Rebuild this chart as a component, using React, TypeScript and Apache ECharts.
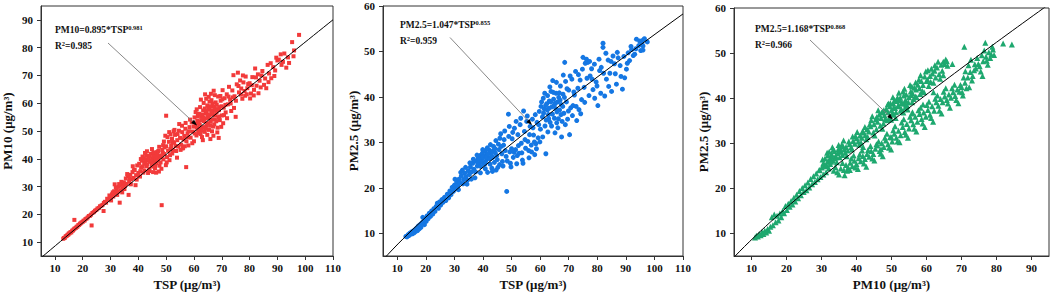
import React, { useEffect, useRef } from "react";
import * as echarts from "echarts";

// ---------- Data ----------
// Panel 1: TSP (x) vs PM10 (y)
const tspPm10: number[][] = [
  [13,11.2],[13.3,11.5],[13.6,11.6],[13.9,12.1],[14.2,12.2],[14.5,12.6],[14.8,12.7],[15,13.1],[15.3,13.2],[15.6,13.6],[15.9,13.5],[16.2,14.1],[16.5,14.2],[16.8,14.6],[17,18],[17.1,14.9],[17.5,15.1],[17.8,15.5],[18.1,15.6],[18.4,16.1],[18.7,16.2],[19,16.6],[19.3,16.8],[19.6,17.1],[20,17.3],[20.3,17.7],[20.7,17.8],[21,18.3],[21.4,18.5],[21.8,18.9],[22.2,19.4],[22.6,19.5],[23,19.9],[23.2,16],[23.5,20.5],[24,20.8],[24.4,21.3],[24.9,21.6],[25.3,22.1],[25.8,22.3],[26.2,22.9],[26.7,23.1],[27.1,23.4],[27.5,21.2],[27.6,24.1],[28,24.5],[28.4,24.2],[28.8,25.6],[29.2,25.4],[29.6,26.8],[30,26.1],[30.2,25],[30.5,27.2],[31,26.4],[31.3,28.3],[31.5,30.8],[31.8,27.6],[32.2,29.1],[32.6,28.1],[33,29.9],[33.3,24.2],[33.5,28.6],[34,30.6],[34.4,29.4],[34.8,31.5],[35.2,30.2],[35.5,32.9],[35.8,31],[36.2,33.8],[36.5,27],[36.7,31.8],[37.1,34.2],[37.5,32.6],[37.9,35.2],[38.3,33.1],[38.7,36],[39,30.5],[39.2,34.1],[39.6,37.6],[40,34.9],[40.3,38.2],[40.7,35.5],[41,36.8],[41.3,39.3],[41.6,37.2],[42,40.1],[42.2,35.8],[42.5,38.5],[42.8,41.2],[43,37.4],[43.3,39.4],[43.6,40.8],[43.9,36.3],[44.2,38.9],[44.5,41.8],[44.8,37.8],[45.1,40.2],[45.4,42.1],[45.7,39.1],[46,36.6],[46.2,41.5],[46.5,38.4],[46.8,42.4],[47.1,40.1],[47.4,35.4],[47.7,41.2],[48,38.7],[48.4,23.3],[48.6,43.2],[49,39.8],[49.3,41.7],[49.7,48.3],[50,55.5],[50,44.5],[50.3,40.6],[50.7,42.9],[51,46.1],[51.4,41.3],[51.8,44.6],[52.1,47.2],[52.5,43.1],[52.9,45.8],[53.2,48.6],[53.6,42.8],[54,46.7],[54.3,44.4],[54.7,52.5],[55,47.5],[55.4,45.1],[55.8,49.6],[56.1,43.9],[56.5,48.2],[56.9,50.8],[57.2,37],[57.3,46.3],[57.7,49.2],[58,44.8],[58.4,51.4],[58.8,47.6],[59.2,53.1],[59.6,49.8],[60,46.3],[60.2,54.9],[60.5,51.7],[60.9,48.4],[61.2,53.8],[61.5,50.6],[61.8,56.2],[62.1,52.3],[62.4,48.9],[62.7,55.1],[63,51.2],[63.3,57.4],[63.6,53.6],[63.9,49.7],[64.2,56.3],[64.5,52.1],[64.8,59.2],[65.1,54.7],[65.4,50.4],[65.7,57.8],[66,53.3],[66.3,61.1],[66.6,55.9],[66.9,51.6],[67.2,58.7],[67.5,54.2],[67.8,60.3],[68.1,56.8],[68.4,49.5],[68.7,62.4],[69,57.5],[69.3,53.9],[69.6,60.9],[70,55.6],[70.3,64.7],[70.7,58.4],[71,61.8],[71.4,56.7],[71.8,63.2],[72.2,59.6],[72.6,65.9],[73,61.3],[73.4,57.2],[73.8,64.6],[74.2,70.1],[74.6,62.5],[75,55.1],[75.4,66.8],[75.8,71],[76.2,63.9],[76.6,68.2],[77,65.3],[77.4,61.6],[77.8,67.5],[78.2,64.4],[78.6,69.6],[79,63.2],[79.5,66.9],[80,67.2],[80.5,63.5],[81,69.4],[81.5,62.8],[82,72.5],[82.5,66.3],[83,70.4],[83.6,68.1],[84,65.7],[84.6,71.6],[85.2,66.6],[86,65.4],[86.5,73.8],[87,70.7],[87.8,69],[88.5,73],[89.2,71.8],[90,75.4],[90.5,75.7],[91.2,77.6],[92,74.9],[93.2,72.8],[93.8,76.5],[95.3,82],[95.8,76.9],[96,79],[97.8,84.6],
  [60.8,52.6],[61.4,55.4],[62,50.9],[62.6,53.9],[63.1,55.8],[63.7,51.4],[64.1,54.5],[64.6,57.1],[65,52.8],[65.5,55.6],[65.9,58.9],[66.4,54.1],[66.8,57.2],[67.3,52.4],[67.7,55.7],[68.2,59.4],[68.8,54.8],[69.2,58.6],[69.8,51.5],[61,57.8],[62.2,58.6],[63.5,60.1],[64.4,61.6],[65.3,62.3],[66.1,63.4],[67.5,62.9],[61.6,49.3],[62.9,47.8],[64.8,48.6],[66.5,49.9],[68.5,51.2],[70.5,52.8],
  [42.1,38.2],[42.7,39.7],[43.2,38],[43.7,39.9],[44.1,41],[44.6,39.5],[45,38.1],[45.5,40.9],[45.9,42.3],[46.3,39.8],[46.7,41],[47.2,42.8],[44,35.6],[45.2,37.2],[46.4,35],[47.6,37.5],[48.2,40.6],[48.8,42.1],[49.4,44.1],[50.2,38.7],[51.2,39.5],[52.2,41.9],[53,50.4],[51.6,48.8],[54.6,50.1],[55.9,43.7],
  [30.8,27.9],[32.4,27],[33.9,31.7],[35,29.1],[36,34.5],[37.3,30.8],[38.4,35.9],[39.4,32.5],[40.6,33.6],[41.8,35],[38,37.3],[36.9,32.9],[34.2,27.9],[33.1,30.9],[31.9,29.7],
  [40.9,39.9],[42.4,42.1],[43.5,34.9],[44.9,43.5],[46.1,37.6],[47.5,44.3],[48.3,36.4],[49.2,46.2],[49.9,37.7],[45.3,35.2],[43.1,42.7],[41.5,40.8],[46.9,39.3],[48.9,44.9],
  [50.5,47.8],[51.5,43.5],[52.7,49.9],[53.4,44.6],[54.1,48.9],[55.2,43.2],[55.7,51.9],[56.3,46.9],[57,52.9],[57.9,47.8],[58.6,54.1],[59.4,45.6],[59.9,51.6],[53.9,40.4],[56.7,44.5],[58.2,49.9],[52.4,46],[51.1,49.6],
  [60.3,49.1],[60.6,56.8],[61.1,51.2],[61.7,53.2],[62.3,55.9],[62.8,50.1],[63.4,54.7],[63.9,58.1],[64.3,50.9],[64.9,55.8],[65.2,58],[65.8,51.9],[66.2,56.7],[66.7,59.9],[67,48.3],[67.6,57.6],[68,53.5],[68.6,57.9],[69.1,55.2],[69.5,62.6],[69.9,58.9],[62.5,61.3],[64,63.2],[65.6,60.6],[67.1,64.5],[63.2,46.7],[65.9,47.1],[68.9,47.5],[70.8,55.7],[71.3,59.4],[71.9,54.6],[72.4,62.4],[73.2,59.9],[73.9,62.1],[74.4,58.3],[70.2,61.4],
  [75.1,60.9],[76,66.2],[76.9,63.1],[77.6,70],[78.4,62.7],[79.2,65.4],[80.2,61.7],[80.8,66.5],[81.6,64.8],[82.3,69.3],[83.2,63.6],[84.3,70],[85.6,68.9],[86.8,67.6],[87.6,74.4],[88.9,69.8],[89.6,76.4],[91.5,73.8],[92.5,77.9],[94.2,74.5]
];

// Panel 2: TSP (x) vs PM2.5 (y)
const tspPm25: number[][] = [
  [13,9.3],[13.4,9.2],[13.8,9.7],[14.1,9.5],[14.4,10],[14.7,9.8],[15,10.3],[15.3,9.9],[15.6,10.5],[15.9,10.1],[16.2,10.8],[16.5,10.4],[16.8,11.2],[17.1,10.6],[17.4,11.6],[17.7,11],[18,11.9],[18.3,11.3],[18.6,12.3],[18.9,13.5],[19.2,12.6],[19.5,11.9],[19.8,13.1],[20.1,12.6],[20.4,13.8],[20.8,13.2],[21.2,14.4],[21.6,13.7],[22,14.9],[22.4,14.2],[22.8,15.4],[23.2,14.8],[23.6,15.9],[24,16.6],[24.4,15.5],[24.8,16.9],[25.2,16.2],[25.6,17.4],[26,16.8],[26.5,17.9],[27,17.2],[27.5,18.6],[28,17.8],[28.4,19.3],[28.8,18.5],[29.2,20.1],[29.6,19.2],[30,20.6],[30.4,19.8],[30.8,21.3],[31.2,20.4],[31.6,21.9],[32,21.1],[32.4,22.6],[32.8,23.9],[33.2,21.8],[33.6,23.2],[34,22.4],[34.4,20.8],[34.8,23.8],[35.2,22.9],[35.6,24.6],[36,23.5],[36.4,25.4],[36.8,24.1],[37.2,22.2],[37.6,25.9],[38,24.8],[38.3,26.6],[38.6,25.3],[38.9,27.1],[39.2,24.7],[39.5,26.3],[39.8,27.6],[40.1,25.5],[40.4,26.9],[40.7,28.1],[41,25.9],[41.3,27.4],[41.6,23.4],[41.9,26.5],[42.2,28.3],[42.5,25.2],[42.8,27.8],[43.1,24.3],[43.4,26.7],[43.7,29.1],[44,25.6],[44.3,27.7],[44.6,23.9],[45,26.2],[45.4,29.6],[45.8,25.1],[46.2,31.9],[46.6,27.5],[47,24.8],[47.4,30.6],[47.8,28.2],[48.3,19.2],[48.5,25.9],[48.9,36.2],[49,31.3],[49.4,27.9],[49.8,24.6],[50.2,30.8],[50.6,26.7],[51,33.1],[51.4,28.4],[51.8,25.3],[52.2,31.7],[52.6,27.6],[53,33.9],[53.4,29.8],[53.8,26.1],[54.2,36.9],[54.5,32.4],[54.9,28.7],[55.3,34.6],[55.7,30.2],[56.1,26.6],[56.5,33.5],[56.9,29.4],[57.3,35.1],[57.7,31.6],[58.1,27.3],[58.5,29.7],[58.9,34.4],[59.3,31],[59.7,36.8],[60.1,32.9],[60.5,38.9],[60.8,35.6],[61.1,39.7],[61.4,37.4],[61.7,33.6],[62,27.5],[62.3,38.5],[62.6,40.3],[62.9,36.1],[63.2,39.1],[63.5,34.4],[63.8,41.2],[64.1,37.8],[64.4,43.6],[64.7,39.5],[65,35.3],[65.3,38.6],[65.6,40.8],[65.9,36.7],[66.2,33.2],[66.5,39.9],[66.8,37.1],[67.1,42.4],[67.4,38.3],[67.7,34.6],[68,40.6],[68.3,36.4],[68.6,47.6],[68.9,43.4],[69.2,38.9],[69.6,35.1],[70,41.5],[70.3,31.7],[70.7,37.6],[71.1,43.9],[71.5,38.1],[72,40.4],[72.4,45.6],[72.8,34.8],[73.2,41.9],[73.6,37.2],[74,43.7],[74.5,39.4],[75,48.7],[75.4,42.1],[75.8,47.4],[76.2,48.3],[76.7,47.6],[77.1,40.3],[77.5,44.6],[78,46.2],[78.5,41.6],[79.1,39.7],[79.6,43.3],[80.2,38.1],[80.8,45.8],[81.4,46.5],[82,50.9],[82,51.8],[82.6,40.2],[83.2,43.9],[83.8,48.1],[84.4,45.2],[85,41.2],[85.5,49],[86,47.3],[86.7,42.8],[87.3,48.6],[88,46.9],[88.8,41.7],[89.6,44.2],[90.2,46.1],[90.8,49.7],[91.3,48],[92,50.4],[92.6,49.1],[93.1,49.4],[93.7,52.7],[94.5,51.3],[95.2,50.2],[96,52.5],[96,51.2],[96,50.3],[97.5,52.1],
  [38.1,25.6],[38.8,26.2],[39.4,25.8],[40,26.8],[40.6,25.2],[41.2,26.7],[41.8,27.5],[42.4,26.4],[43,27.1],[43.6,28.2],[44.2,28.6],[44.8,27.1],[45.6,28.4],[46.4,29.1],[47.2,29.4],[61.2,36.4],[61.9,38.1],[62.5,37.1],[63.1,37.5],[63.7,38.9],[64.3,36.2],[64.9,38.2],[65.5,37.4],[66.1,38.9],[66.7,40.9],[67.3,36.1],[67.9,37.9],[68.5,39.9],[63,35.2],[65.8,34.3],[58,30.1],[56,28.2],[54,25.4],[52,27.1],[50,28.6],
  [30.2,21.9],[31.4,19.6],[32.2,23.4],[33,20.9],[33.9,24.5],[34.6,21.7],[35.4,25.5],[35.9,21.9],[36.6,26.3],[37.4,23.5],[37.9,27.2],[39.1,23.3],[39.9,28.4],[40.8,24.2],[41.5,28.8],[42.6,29.5],[43.3,23.6],[44.5,30.4],[45.2,24.5],[45.9,30.9],[46.8,25.8],[47.6,32.5],[48.1,26.9],[49.2,33.5],[49.6,25.4],[50.4,32.2],[50.9,27.8],[51.6,34.6],[52.4,29.3],[53.2,35.3],[53.6,27.7],[54.7,30.6],[55.5,35.8],[56.3,31.7],[57,27.9],[57.5,33.2],[58.3,36.1],[58.7,28.6],[59.5,33.9],[59.9,30.1],[60.3,37.9],[60.9,31.2],[61.6,40.8],[62.1,34.9],[62.7,32.3],[63.4,42.2],[64,33.6],[64.6,41],[65.2,32.1],[65.7,43.2],[66.4,35.2],[67,39.3],[67.5,31.2],[68.1,44.8],[68.8,33.9],[69.4,41.8],[69.9,36.9],[70.5,44.6],[71.3,35.9],[71.8,41.1],[72.6,37.9],[73.4,44.9],[74.2,36.3],[74.8,46.1],[75.6,38.8],[76.4,44.1],[77.3,47.8],[78.2,43.9],[79,47.2],[79.9,42.4],[80.6,48.3],[81.2,40.8],[82.2,45.2],[83,49.6],[84,42.3],[84.8,47.8],[86.3,45.1],[87,49.8],[88.3,44.5],[89.3,48.9],[90.5,47.4],[91.8,51.1],[93.5,50.6],[94.8,52.3],[95.6,51.7],[96.5,52.8]
];

// Panel 3: PM10 (x) vs PM2.5 (y)
const pm10Pm25: number[][] = [
  [11,9.1],[11.4,9.5],[11.8,9.3],[12.2,9.9],[12.6,9.6],[13,10.3],[13.4,9.9],[13.8,10.6],[14.2,10.2],[14.6,11],[15,10.6],[15.4,11.5],[15.8,13.6],[16.1,11.8],[16.5,14.2],[16.9,12.5],[17.3,13.9],[17.7,12.9],[18.1,14.4],[18.5,13.6],[18.9,15],[19.3,14.5],[19.7,16.1],[20.1,15.2],[20.5,16.6],[20.9,15.9],[21.3,17.2],[21.7,16.4],[22.1,17.9],[22.5,17.1],[22.9,18.6],[23.3,17.8],[23.7,19.4],[24.1,18.5],[24.5,20.1],[24.9,19.2],[25.3,20.7],[25.7,19.6],[26.1,21.3],[26.5,20.2],[26.9,22.1],[27.3,20.9],[27.7,22.7],[28.1,21.4],[28.5,23.3],[28.9,22],[29.3,24],[29.7,22.5],[30.1,24.6],[30.5,23.1],[30.9,25.2],[31.3,23.6],[31.7,25.9],[32.1,24.4],[32.5,26.7],[32.9,27.6],[33.3,26.1],[33.7,28.3],[34,27.2],[34.4,25.8],[34.8,28.7],[35.2,26.9],[35.6,28.1],[36,27.4],[33.5,23.9],[34.5,23.6],[35.5,24.4],[36.4,24.1],[37,25.2],[37.6,24.6],[38.2,25.7],[38.8,24.9],[39.4,26.1],[40,25.4],[40.6,26.7],[41.2,26],[41.8,27.2],[42.4,26.5],[43,27.6],[43.6,27],[44.2,28.3],[44.8,27.6],[45.4,28.8],[46,29.5],[46.6,28.3],[47.2,30],[47.8,29.2],[48.4,30.6],[49,29.8],[49.6,31.4],[50.2,30.4],[50.8,32.1],[51.4,31.2],[52,32.8],[52.6,31.8],[53.2,33.6],[53.8,32.5],[54.4,34.3],[55,33.3],[55.6,35.1],[56.2,34.2],[56.8,35.9],[57.4,34.8],[58,36.5],[58.6,35.4],[59.2,36.8],[59.8,35.9],[60.4,37.4],[61,36.3],[61.6,38.2],[62.2,37.2],[62.8,39.1],[63.4,38.3],[64,39.8],[64.6,39.1],[65.2,40.4],[65.8,39.6],[66.4,40.8],[67,40.1],[67.6,41.3],[68.2,40.5],[68.8,41.9],[69.4,41.4],[70,42.5],[70.4,40.6],[71,43.4],[71.8,44.6],[72.5,45.8],[73.2,44.9],[74.1,46.6],[74.8,47.6],[75.5,45.9],[76.2,48.2],[77,49.2],[77.5,47.4],[78.2,48.9],[78.8,51.4],[79,50.8],
  [36.5,28.6],[37,29.2],[37.5,28.4],[38,29.8],[38.5,29.1],[39,30.5],[39.5,29.9],[40,31.1],[40.5,30.4],[41,31.7],[41.5,31.2],[42,32.4],[42.5,31.8],[43,33.1],[43.5,32.6],[44,33.8],[44.5,36],[45,34.2],[45.5,35.3],[46,34.8],[46.5,36.4],[47,35.6],[47.5,37],[48,36.2],[48.5,37.6],[49,36.9],[49.5,38.2],[50,37.4],[50.5,38.8],[51,37.8],[51.5,39.4],[52,38.5],[52.5,40.1],[53,39],[53.5,40.6],[54,39.6],[54.5,38.3],[55,40.2],[55.5,41.5],[56,41.1],[56.5,42.3],[57,41.9],[57.5,43],[58,42.2],[58.5,43.8],[59,42.9],[59.8,45.9],[60.3,44.1],[61,44.9],[61.7,45.5],[62.3,46.1],[63,46.8],[63.6,45.3],[64.2,47.4],[64.8,48.1],[65.5,48.6],[66,47.2],[67.4,47.6],[70.8,51.4],[72.7,48.5],[76.8,52.3],[81.9,52.1],[84.4,51.9],
  [30.5,25.5],[31,26.6],[31.5,25],[32,26],[32.5,25.4],[33,27],[33.8,26.6],[34.6,27.8],[35.4,28.8],[36.2,29.3],[50.2,36.6],[50.9,39.6],[51.8,38.2],[52.8,37.6],[53.6,38.8],[54.2,40.8],[49.2,38.8],[48.2,35.4],[47.2,36.8],
  [30.3,26.4],[31.2,24.9],[31.8,27.3],[32.7,25.9],[33.4,28.6],[34.2,26.9],[35,28.2],[35.8,29.7],[36.8,27.9],[37.8,30.4],[38.7,28.6],[39.7,31.6],[40.8,29.7],[41.7,32.6],[42.8,30.9],[43.8,34.2],[44.8,32.4],[45.8,35.8],[46.8,33.9],[47.8,37.3],[48.7,35.1],[49.7,38.9],[50.7,36.3],[51.7,40.1],[52.6,37.2],[53.3,41.5],[54.8,39.1],[55.8,42.6],[56.8,40.4],[57.8,44.1],[58.8,41.6],[59.5,44.8],[60.6,42.7],[61.4,46.5],[62.6,44.6],[63.3,48.1],[64.5,46.1],[65.2,47.6],[62,43.4],[60,43.8],[58.2,40.9],[56.3,39.8],[53.9,37.9],[51.3,36.9],[49.4,35.6],[47.7,34.4],[45.7,33.1],[43.2,31.4],[41.3,30.1],
  [34,24.7],[35,23.1],[36,25.6],[37.3,23.9],[38.5,26.6],[39.7,24.6],[40.9,27.5],[42.1,25.5],[43.3,28.5],[44.5,26.6],[45.7,29.8],[46.9,27.7],[48.1,31.2],[49.3,29],[50.5,32.9],[51.7,30.4],[52.9,34.6],[54.1,31.9],[55.3,35.9],[56.5,33.2],[57.7,37.3],[58.9,34.4],[60.1,38.5],[61.3,35.6],[62.5,39.9],[63.7,37.2],[64.9,41.4],[66.1,38.8],[67.3,42.2],[68.5,39.6],[69.7,42.9],[71.4,42.2],[72,47.3],[73.6,46.2],[74.5,48.9],[75.2,47.1],[76.5,50.6],[77.2,48.3],[78.5,49.7],[76,44.9],[73,43.9],[70.6,44.6],
  [29.5,24.1],[31.6,27.9],[32.2,28.1],[33.1,29.1],[34.9,29.6],[36.3,30.6],[37.2,27.1],[38.9,31.5],[40.2,32.5],[41.9,29.2],[42.4,33.6],[44.2,35.1],[45.2,31.7],[46.2,37.3],[47.4,33.2],[48.9,38.6],[49.9,35.2],[50.4,40.2],[51.2,35.6],[52.1,41.2],[52.9,38.9],[53.7,42.1],[54.6,37.5],[55.3,42.9],[55.9,39.1],[56.9,43.5],[57.2,40.2],[58.3,45.1],[59.3,41.3],[60.4,46.2],[61.2,43.6],[62.4,47.3],[63.9,44.3],[64.8,45.1],[65.8,48.2],[50.6,37.9],[52.3,39.6],[54.1,38.6],[55.6,40.7],[53.4,36.8],
  [36.6,22.9],[38.1,24.1],[39.2,27.3],[40.4,24.3],[41.6,28.4],[42.8,24.8],[44,29.4],[45.1,26.2],[46.3,30.4],[47.5,27.1],[48.7,32.1],[49.9,28.6],[51,33.8],[52.3,30.2],[53.5,35.3],[54.7,31.2],[55.9,36.6],[57.1,32.6],[58.3,37.9],[59.5,33.6],[60.7,39.2],[61.9,34.8],[63.1,40.6],[64.3,36.6],[65.5,42.2],[66.7,37.9],[68,43],[69.1,38.9],[70.2,41.3],[71.1,46],[72.2,42.4],[73.8,47.5],[75.8,49.5],[77.8,50.2],[79.3,49.6],[56,36.9],[59,38.6],[62,41.3],[50,31.3],[47,28.7]
];

// Power-law fits printed on the chart: y = a * x^b
const fitCoefA = [0.895, 1.047, 1.168];
const fitCoefB = [0.981, 0.855, 0.868];
const fitXRange = [[5, 110], [5, 110], [5, 95]];

// Axes
const xMin = [5, 5, 5];
const xMax = [110, 110, 95];
const yMin = [5, 5, 5];
const yMax = [95, 60, 60];
const xTicks = [
  [10, 20, 30, 40, 50, 60, 70, 80, 90, 100, 110],
  [10, 20, 30, 40, 50, 60, 70, 80, 90, 100, 110],
  [10, 20, 30, 40, 50, 60, 70, 80, 90],
];
const yTicks = [
  [10, 20, 30, 40, 50, 60, 70, 80, 90],
  [10, 20, 30, 40, 50, 60],
  [10, 20, 30, 40, 50, 60],
];
const xNames = ["TSP (μg/m³)", "TSP (μg/m³)", "PM10 (μg/m³)"];
const yNames = ["PM10 (μg/m³)", "PM2.5 (μg/m³)", "PM2.5 (μg/m³)"];
const eqMain = ["PM10=0.895*TSP", "PM2.5=1.047*TSP", "PM2.5=1.168*TSP"];
const eqExp = ["0.981", "0.855", "0.868"];
const r2Values = ["0.985", "0.959", "0.966"];

// ---------- Layout & style ----------
const FONT = "'Liberation Serif', 'Times New Roman', serif";
const AXIS_COLOR = "#333333";
const TEXT_COLOR = "#111111";
const COLORS = ["#f23a3a", "#1577e3", "#1ea86f"];
const SYMBOLS = ["rect", "circle", "triangle"];
const SYMBOL_SIZES = [4, 5, 6];
const grids = [
  { left: 37, top: 6, width: 296, height: 252 },
  { left: 383, top: 6, width: 300, height: 252 },
  { left: 734, top: 8, width: 315, height: 249 },
];
const yNameGaps = [27, 23, 24];
const textPos = [
  { x: 55, y1: 29.5, y2: 46 },
  { x: 400, y1: 24.5, y2: 41 },
  { x: 755, y1: 29, y2: 45 },
];
const arrows = [
  [108, 43, 197, 125.5],
  [450, 37.5, 532, 125],
  [810, 40, 893, 119.5],
];

function fitPoints(i: number): number[][] {
  const pts: number[][] = [];
  const [x0, x1] = fitXRange[i];
  const n = 60;
  for (let k = 0; k <= n; k++) {
    const x = x0 + ((x1 - x0) * k) / n;
    pts.push([x, fitCoefA[i] * Math.pow(x, fitCoefB[i])]);
  }
  return pts;
}

export default function App() {
  const ref = useRef<HTMLDivElement>(null);
  useEffect(() => {
    if (!ref.current) return;
    const chart = echarts.init(ref.current, undefined, { renderer: "svg" });
    const datasets = [tspPm10, tspPm25, pm10Pm25];

    const labelStyle = { fontFamily: FONT, fontWeight: "bold", fontSize: 11, color: TEXT_COLOR };
    const nameStyle = { fontFamily: FONT, fontWeight: "bold", fontSize: 13, color: TEXT_COLOR };

    const xAxis = [0, 1, 2].map((i) => ({
      type: "value",
      gridIndex: i,
      min: xMin[i],
      max: xMax[i],
      name: xNames[i],
      nameLocation: "middle",
      nameGap: 22,
      nameTextStyle: nameStyle,
      axisLine: { show: true, lineStyle: { color: AXIS_COLOR, width: 1 } },
      axisTick: { show: true, inside: false, length: 4, customValues: xTicks[i], lineStyle: { color: AXIS_COLOR } },
      axisLabel: { ...labelStyle, customValues: xTicks[i], margin: 6 },
      splitLine: { show: false },
    }));
    const yAxis = [0, 1, 2].map((i) => ({
      type: "value",
      gridIndex: i,
      min: yMin[i],
      max: yMax[i],
      name: yNames[i],
      nameLocation: "middle",
      nameGap: yNameGaps[i],
      nameTextStyle: nameStyle,
      axisLine: { show: true, lineStyle: { color: AXIS_COLOR, width: 1 } },
      axisTick: { show: true, inside: false, length: 4, customValues: yTicks[i], lineStyle: { color: AXIS_COLOR } },
      axisLabel: { ...labelStyle, customValues: yTicks[i], margin: 8 },
      splitLine: { show: false },
    }));

    const series: any[] = [];
    [0, 1, 2].forEach((i) => {
      series.push({
        type: "scatter",
        xAxisIndex: i,
        yAxisIndex: i,
        data: datasets[i],
        symbol: SYMBOLS[i],
        symbolSize: SYMBOL_SIZES[i],
        itemStyle: { color: COLORS[i], opacity: 1 },
        z: 2,
      });
      series.push({
        type: "line",
        xAxisIndex: i,
        yAxisIndex: i,
        data: fitPoints(i),
        showSymbol: false,
        symbol: "none",
        clip: true,
        lineStyle: { color: "#000", width: 1 },
        z: 3,
      });
    });

    const richStyles = {
      a: { fontFamily: FONT, fontWeight: "bold", fontSize: 9.5, fill: TEXT_COLOR, lineHeight: 12 },
      s: { fontFamily: FONT, fontWeight: "bold", fontSize: 6.5, fill: TEXT_COLOR, verticalAlign: "top", lineHeight: 12 },
    };
    const graphic: any[] = [];
    [0, 1, 2].forEach((i) => {
      const tp = textPos[i];
      graphic.push({
        type: "text",
        x: tp.x,
        y: tp.y1,
        z: 10,
        style: { text: `{a|${eqMain[i]}}{s|${eqExp[i]}}`, verticalAlign: "middle", rich: richStyles },
      });
      graphic.push({
        type: "text",
        x: tp.x,
        y: tp.y2,
        z: 10,
        style: { text: `{a|R}{s|2}{a|=${r2Values[i]}}`, verticalAlign: "middle", rich: richStyles },
      });
      const [x1, y1, x2, y2] = arrows[i];
      const ang = Math.atan2(y2 - y1, x2 - x1);
      const L = 6, W = 2.2;
      const bx = x2 - L * Math.cos(ang), by = y2 - L * Math.sin(ang);
      const px = -Math.sin(ang) * W, py = Math.cos(ang) * W;
      graphic.push({
        type: "line",
        z: 10,
        shape: { x1, y1, x2: bx, y2: by },
        style: { stroke: "#7a7a7a", lineWidth: 0.9 },
      });
      graphic.push({
        type: "polygon",
        z: 10,
        shape: { points: [[x2, y2], [bx + px, by + py], [bx - px, by - py]] },
        style: { fill: "#000" },
      });
    });

    chart.setOption({
      animation: false,
      backgroundColor: "#ffffff",
      grid: grids.map((g) => ({ ...g, show: true, borderColor: AXIS_COLOR, borderWidth: 1, backgroundColor: "transparent" })),
      xAxis,
      yAxis,
      series,
      graphic,
    });
    return () => chart.dispose();
  }, []);
  return <div ref={ref} style={{ position: "absolute", left: 0, top: 0, width: 1052, height: 296 }} />;
}
